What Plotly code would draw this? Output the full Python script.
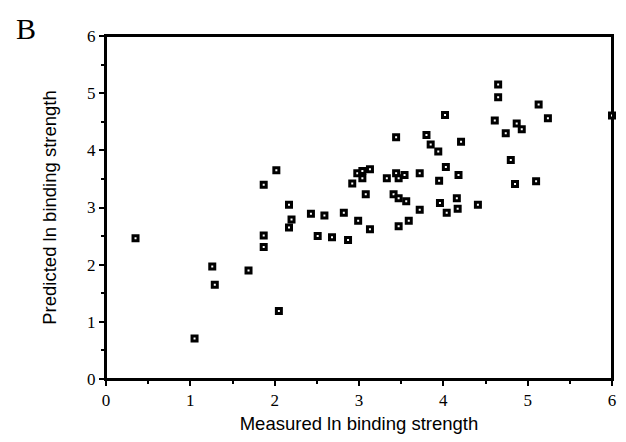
import plotly.graph_objects as go

# measured vs predicted ln binding strength
measured = [0.35, 1.05, 1.26, 1.29, 1.69, 1.87, 1.87, 1.87, 2.02, 2.05, 2.17, 2.20, 2.17,
            2.43, 2.59, 2.82, 2.51, 2.68, 2.87, 2.99, 3.13, 2.92, 2.98, 3.04, 3.04, 3.13,
            3.08, 3.33, 3.44, 3.47, 3.54, 3.72, 3.41, 3.47, 3.56, 3.72, 3.59, 3.47, 3.44,
            4.65, 4.65, 5.13, 5.24, 6.00, 4.02, 4.61, 4.87, 4.93, 4.74, 3.80, 3.85, 3.94,
            4.21, 4.80, 4.03, 4.18, 3.95, 4.85, 5.10, 3.96, 4.16, 4.17, 4.04, 4.41]
predicted = [2.46, 0.71, 1.97, 1.65, 1.90, 2.51, 2.31, 3.40, 3.65, 1.19, 3.05, 2.79, 2.65,
             2.89, 2.86, 2.91, 2.50, 2.48, 2.43, 2.77, 2.62, 3.42, 3.60, 3.64, 3.51, 3.67,
             3.23, 3.51, 3.60, 3.51, 3.57, 3.60, 3.23, 3.16, 3.11, 2.96, 2.77, 2.67, 4.23,
             5.15, 4.93, 4.80, 4.56, 4.61, 4.62, 4.52, 4.47, 4.37, 4.30, 4.27, 4.10, 3.98,
             4.15, 3.83, 3.71, 3.57, 3.47, 3.41, 3.46, 3.08, 3.16, 2.98, 2.91, 3.05]

fig = go.Figure()
fig.add_trace(go.Scatter(x=measured, y=predicted, mode='markers', cliponaxis=False,
                         marker=dict(symbol='square', size=5, color='white',
                                     line=dict(color='black', width=3))))

serif = dict(family='Liberation Serif, Times New Roman, serif', size=17, color='black')
sans = dict(family='Liberation Sans, Arial, sans-serif', size=18.5, color='black')

axis_common = dict(range=[0, 6], dtick=1, showgrid=False, zeroline=False, automargin=False,
                   showline=True, linecolor='black', linewidth=2, mirror=True,
                   ticks='outside', ticklen=5, tickwidth=2, tickcolor='black',
                   tickfont=serif,
                   minor=dict(dtick=0.5, ticks='outside', ticklen=3, tickwidth=2,
                              tickcolor='black'))

# page body adds 8px margin, so the figure is shrunk to fit the window
fig.update_layout(
    width=610, height=426,
    margin=dict(l=98, r=6, t=28, b=55),
    paper_bgcolor='white', plot_bgcolor='white',
    showlegend=False,
    xaxis=dict(axis_common, title=dict(text='Measured ln binding strength', font=sans, standoff=8)),
    yaxis=dict(axis_common, title=dict(text='Predicted ln binding strength', font=sans, standoff=26)),
    annotations=[dict(text='B', x=-0.182, y=1.022, xref='paper', yref='paper', showarrow=False,
                      xanchor='left', yanchor='middle',
                      font=dict(family='Liberation Serif, Times New Roman, serif', size=30, color='black'))],
)
# full frame round the plot area
fig.add_shape(type='rect', xref='paper', yref='paper', x0=0, y0=0, x1=1, y1=1,
              line=dict(color='black', width=2), layer='below')

fig.write_html("out.html")
